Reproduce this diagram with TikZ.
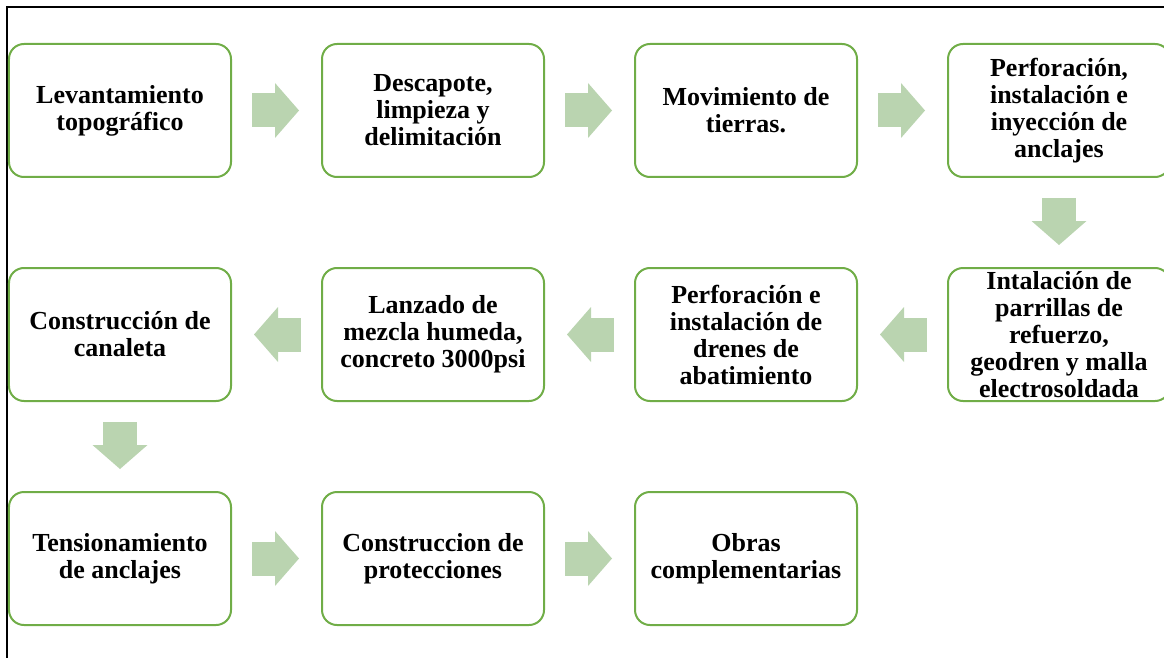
\documentclass[tikz,border=0pt]{standalone}
\usepackage{fontspec}
\setmainfont{Liberation Serif}
\usetikzlibrary{positioning,arrows.meta}
\definecolor{boxgreen}{RGB}{112,173,71}
\definecolor{arrowgreen}{RGB}{186,212,176}
\tikzset{
  stepbox/.style={draw=boxgreen, line width=2bp, rounded corners=15bp,
    minimum width=222bp, minimum height=133bp, inner sep=1bp, outer sep=0pt,
    align=center, font=\bfseries\fontsize{26bp}{27bp}\selectfont},
  flow/.style={draw=arrowgreen, line width=34bp,
    -{Triangle[length=24bp,width=55bp,line width=0pt]},
    shorten <=21bp, shorten >=23bp}
}
\begin{document}
\begin{tikzpicture}[x=1bp,y=1bp,node distance=91bp]
      \useasboundingbox (-120,-547.5) rectangle (1044,110.5);
      \draw[line width=1.5bp] (-113,-547.5) -- (-113,103.5) -- (1044,103.5);

      \node[stepbox] (1) {Levantamiento\\topográfico};
      \node[stepbox, right=of 1] (2) {Descapote,\\limpieza y\\delimitación};
      \node[stepbox, right=of 2] (3) {Movimiento de\\tierras.};
      \node[stepbox, right=of 3] (4) {Perforación,\\instalación e\\inyección de\\anclajes};
      \node[stepbox, below=of 4] (5) {Intalación de\\parrillas de\\refuerzo,\\geodren y malla\\electrosoldada};
      \node[stepbox, left=of 5] (6) {Perforación e\\instalación de\\drenes de\\abatimiento};
      \node[stepbox, left=of 6] (7) {Lanzado de\\mezcla humeda,\\concreto 3000psi};
      \node[stepbox, left=of 7] (8) {Construcción de\\canaleta};
      \node[stepbox, below=of 8] (9) {Tensionamiento\\de anclajes};
      \node[stepbox, right=of 9] (10) {Construccion de\\protecciones};
      \node[stepbox, right=of 10] (11) {Obras\\complementarias};

      \draw[flow] (1) -- (2);
      \draw[flow] (2) -- (3);
      \draw[flow] (3) -- (4);
      \draw[flow] (4) -- (5);
      \draw[flow] (5) -- (6);
      \draw[flow] (6) -- (7);
      \draw[flow] (7) -- (8);
      \draw[flow] (8) -- (9);
      \draw[flow] (9) -- (10);
      \draw[flow] (10) -- (11);
    \end{tikzpicture}
\end{document}
